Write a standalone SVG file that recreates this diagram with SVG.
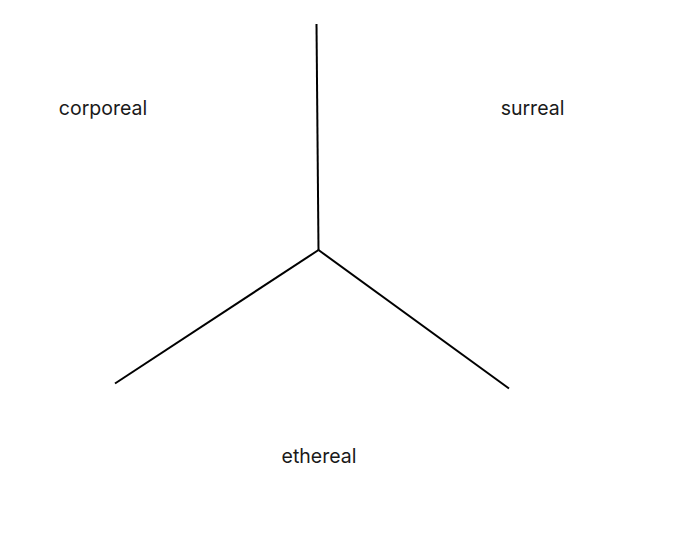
<svg xmlns="http://www.w3.org/2000/svg" width="681" height="541" viewBox="0 0 681 541">
<style>
.lbl{font-family:"Inter","Liberation Sans",sans-serif;font-size:19.5px;fill:#1a1a1a;text-anchor:middle}
.ln{stroke:#000;stroke-width:2;fill:none}
</style>
<rect width="681" height="541" fill="#fff"/>
<g id="connectors">
<line class="ln" x1="316.5" y1="24" x2="318.5" y2="250"/>
<line class="ln" x1="318.5" y1="250" x2="115" y2="383.5"/>
<line class="ln" x1="318.5" y1="250" x2="509" y2="388.5"/>
</g>
<g id="corporeal"><text class="lbl" x="103" y="115">corporeal</text></g>
<g id="surreal"><text class="lbl" x="532.5" y="115">surreal</text></g>
<g id="ethereal"><text class="lbl" x="319" y="463">ethereal</text></g>
</svg>
